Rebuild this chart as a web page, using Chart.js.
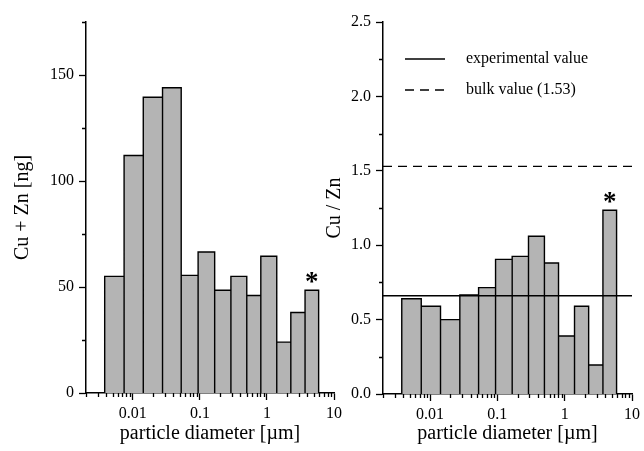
<!DOCTYPE html>
<html>
<head>
<meta charset="utf-8">
<title>Cu + Zn by particle diameter</title>
<script src="https://cdn.jsdelivr.net/npm/chart.js@4.4.1/dist/chart.umd.min.js"></script>
<style>
  body { margin: 0; background: #fff; }
  #wrap { position: relative; width: 644px; height: 451px; }
  canvas { position: absolute; top: 0; }
  #massChart { left: 0; }
  #ratioChart { left: 320px; }
</style>
</head>
<body>
<div id="wrap">
  <canvas id="massChart" width="350" height="451"></canvas>
  <canvas id="ratioChart" width="324" height="451"></canvas>
</div>
<script>
// impactor stage boundaries [µm], one more than the number of bins
const binEdges = [0.0038, 0.0074, 0.0143, 0.0277, 0.0526, 0.094, 0.166, 0.29, 0.50, 0.81, 1.40, 2.27, 3.70, 5.90];
// Cu + Zn mass per stage [ng]
const massValues = [55, 112, 139.5, 144, 55.5, 66.5, 48.5, 55, 46, 64.5, 24, 38, 48.5];
// Cu / Zn ratio per stage
const ratioValues = [0.64, 0.59, 0.50, 0.665, 0.715, 0.905, 0.925, 1.06, 0.88, 0.39, 0.59, 0.195, 1.235];
const experimentalRatio = 0.66;
const bulkRatio = 1.53;
const markedBin = 12; // stage flagged with *

const xTicks = [0.01, 0.1, 1, 10];
const massTicks = [0, 50, 100, 150];
const ratioTicks = [0, 0.5, 1.0, 1.5, 2.0, 2.5];
const massMinor = [25, 75, 125, 175];
const ratioMinor = [0.25, 0.75, 1.25, 1.75, 2.25];

const FONT = 'Liberation Serif';
const X_MIN = 0.002, X_MAX = 10;

// minor ticks of the log axis: 2..9 of every decade
const xMinor = [];
[0.001, 0.01, 0.1, 1].forEach(d => {
    for (let k = 2; k <= 9; k++) {
        const v = +(k * d).toPrecision(3);
        if (v >= X_MIN && v < X_MAX) xMinor.push(v);
    }
});

// outline of the histogram: up, across, down for every bin
function histPoints(edges, vals) {
    const pts = [];
    vals.forEach((v, i) => {
        pts.push({x: edges[i], y: 0}, {x: edges[i], y: v}, {x: edges[i + 1], y: v}, {x: edges[i + 1], y: 0});
    });
    return pts;
}

const minorTicks = {
    id: 'minorTicks',
    afterDraw(chart, args, opts) {
        const {ctx} = chart;
        const xs = chart.scales.x, ys = chart.scales.y;
        ctx.save();
        ctx.strokeStyle = '#000';
        ctx.lineWidth = 1.3;
        ctx.beginPath();
        opts.x.forEach(v => {
            const px = Math.round(xs.getPixelForValue(v)) + 0.5;
            ctx.moveTo(px, xs.top);
            ctx.lineTo(px, xs.top + 4);
        });
        opts.y.forEach(v => {
            const py = Math.round(ys.getPixelForValue(v)) + 0.5;
            ctx.moveTo(ys.right, py);
            ctx.lineTo(ys.right - 4, py);
        });
        ctx.stroke();
        ctx.restore();
    }
};

const starMark = {
    id: 'starMark',
    afterDatasetsDraw(chart, args, opts) {
        const {ctx} = chart;
        const xs = chart.scales.x, ys = chart.scales.y;
        const cx = xs.getPixelForValue(Math.sqrt(binEdges[markedBin] * binEdges[markedBin + 1]));
        const cy = ys.getPixelForValue(opts.values[markedBin]);
        ctx.save();
        ctx.fillStyle = '#000';
        ctx.font = 'bold 27px "' + FONT + '"';
        ctx.textAlign = 'center';
        ctx.textBaseline = 'middle';
        ctx.fillText('*', cx, cy - 7);
        ctx.restore();
    }
};

const lineLegend = {
    id: 'lineLegend',
    afterDraw(chart) {
        const {ctx, chartArea} = chart;
        const rows = [
            {text: 'experimental value', dash: []},
            {text: 'bulk value (1.53)', dash: [9, 6]}
        ];
        ctx.save();
        ctx.strokeStyle = '#000';
        ctx.fillStyle = '#000';
        ctx.lineWidth = 1.5;
        ctx.font = '16px "' + FONT + '"';
        ctx.textBaseline = 'middle';
        rows.forEach((r, i) => {
            const y = chartArea.top + 37 + i * 31;
            ctx.setLineDash(r.dash);
            ctx.beginPath();
            ctx.moveTo(chartArea.left + 22, y);
            ctx.lineTo(chartArea.left + 62, y);
            ctx.stroke();
            ctx.fillText(r.text, chartArea.left + 83, y);
        });
        ctx.restore();
    }
};

function axisX(height) {
    return {
        type: 'logarithmic',
        min: X_MIN,
        max: X_MAX,
        afterBuildTicks: s => { s.ticks = xTicks.map(v => ({value: v})); },
        afterFit: s => { s.height = height; },
        ticks: {
            autoSkip: false,
            maxRotation: 0,
            padding: 4,
            color: '#000',
            font: {family: FONT, size: 16},
            callback: v => String(v)
        },
        grid: {drawOnChartArea: false, drawTicks: true, tickLength: 7, tickWidth: 1.3, tickColor: '#000'},
        border: {display: true, color: '#000', width: 1.5},
        title: {
            display: true,
            text: 'particle diameter [µm]',
            color: '#000',
            font: {family: FONT, size: 20},
            padding: {top: 0, bottom: 5}
        }
    };
}

function axisY(max, tickVals, width, label, fmt, titlePad) {
    return {
        type: 'linear',
        min: 0,
        max: max,
        afterBuildTicks: s => { s.ticks = tickVals.map(v => ({value: v})); },
        afterFit: s => { s.width = width; },
        ticks: {
            padding: 5,
            color: '#000',
            font: {family: FONT, size: 16},
            callback: fmt
        },
        grid: {drawOnChartArea: false, drawTicks: true, tickLength: 7, tickWidth: 1.3, tickColor: '#000'},
        border: {display: true, color: '#000', width: 1.5},
        title: {
            display: true,
            text: label,
            color: '#000',
            font: {family: FONT, size: 20},
            padding: {top: titlePad, bottom: 0}
        }
    };
}

const barStyle = {
    borderColor: '#000',
    borderWidth: 1.4,
    backgroundColor: '#b4b4b4',
    fill: 'origin',
    pointRadius: 0,
    tension: 0
};

// Left panel: Cu + Zn mass
new Chart(document.getElementById('massChart'), {
    type: 'line',
    data: {
        datasets: [Object.assign({label: 'Cu + Zn', data: histPoints(binEdges, massValues)}, barStyle)]
    },
    options: {
        responsive: false,
        animation: false,
        devicePixelRatio: 1,
        layout: {padding: {top: 22, right: 16, left: 0, bottom: 0}},
        plugins: {
            legend: {display: false},
            tooltip: {enabled: false},
            minorTicks: {x: xMinor, y: massMinor},
            starMark: {values: massValues}
        },
        scales: {
            x: axisX(58),
            y: axisY(175, massTicks, 86, 'Cu + Zn [ng]', v => String(v), 11)
        }
    },
    plugins: [minorTicks, starMark]
});

// Right panel: Cu / Zn ratio
new Chart(document.getElementById('ratioChart'), {
    type: 'line',
    data: {
        datasets: [{
            label: 'experimental value',
            data: [{x: X_MIN, y: experimentalRatio}, {x: X_MAX, y: experimentalRatio}],
            borderColor: '#000',
            borderWidth: 1.4,
            pointRadius: 0,
            fill: false,
            order: 0
        }, {
            label: 'bulk value (1.53)',
            data: [{x: X_MIN, y: bulkRatio}, {x: X_MAX, y: bulkRatio}],
            borderColor: '#000',
            borderWidth: 1.4,
            borderDash: [9, 6],
            pointRadius: 0,
            fill: false,
            order: 0
        }, Object.assign({label: 'Cu / Zn', data: histPoints(binEdges, ratioValues), order: 1}, barStyle)]
    },
    options: {
        responsive: false,
        animation: false,
        devicePixelRatio: 1,
        layout: {padding: {top: 22, right: 11, left: 0, bottom: 0}},
        plugins: {
            legend: {display: false},
            tooltip: {enabled: false},
            minorTicks: {x: xMinor, y: ratioMinor},
            starMark: {values: ratioValues}
        },
        scales: {
            x: axisX(57),
            y: axisY(2.5, ratioTicks, 63, 'Cu / Zn', v => v.toFixed(1), 3)
        }
    },
    plugins: [minorTicks, starMark, lineLegend]
});
</script>
</body>
</html>
